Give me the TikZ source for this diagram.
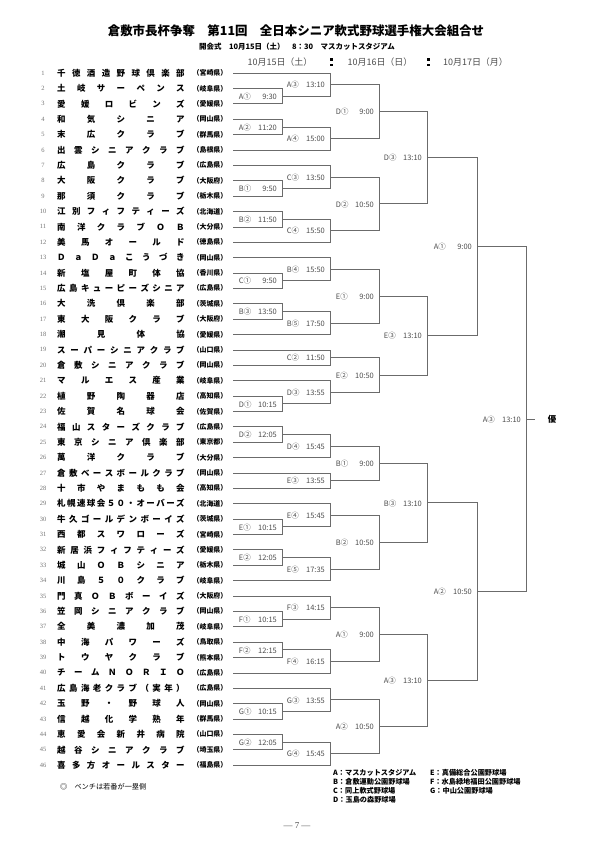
\documentclass[tikz,border=0pt]{standalone}
\usepackage{fontspec}
\setmainfont{Liberation Serif}
\newfontfamily\jp{Noto Sans CJK JP}
\usetikzlibrary{calc}
\definecolor{lncol}{gray}{0.42}
\definecolor{lblcol}{gray}{0.3}
\definecolor{numcol}{gray}{0.45}
\newcommand\SpFirst[1]{#1\SpRest}
\def\SpRest#1{\ifx#1\relax\else\hfill#1\expandafter\SpRest\fi}
\newcommand\Mt[6]{%
  \draw[bline] (#3) -- (#3 -| #2) -- (#4 -| #2) -- (#4);
  \coordinate (#1) at ($(#3 -| #2)!0.5!(#4 -| #2)$);
  \node[mlbl] (L#1) at ($(#1)+(-5,0.5)$) {\hbox to 38pt{#5\hfill#6}};
}
\begin{document}
\begin{tikzpicture}[x=1bp,y=-1bp,
  bline/.style={draw=lncol,line width=0.6pt},
  mlbl/.style={anchor=east,inner sep=0pt,font=\jp\fontsize{7.5}{8}\selectfont,text=lblcol},
  tnum/.style={inner sep=0pt,font=\fontsize{6.5}{7}\selectfont,text=numcol},
  tname/.style={anchor=west,inner sep=0pt,font=\jp\bfseries\fontsize{8.5}{9}\selectfont},
  tpref/.style={inner sep=0pt,font=\jp\bfseries\fontsize{7}{8}\selectfont},
  datetxt/.style={inner sep=0pt,font=\jp\fontsize{9}{10}\selectfont,text=lblcol},
  legend/.style={anchor=west,inner sep=0pt,font=\jp\bfseries\fontsize{7.2}{8}\selectfont}]
\fill[white] (0,0) rectangle (595,842);
\useasboundingbox (0,0) rectangle (595,842);

% header
\node[inner sep=0pt,font=\jp\bfseries\fontsize{12.5}{13}\selectfont] (title) at (296,31)
  {倉敷市長杯争奪　第11回　全日本シニア軟式野球選手権大会組合せ};
\node[inner sep=0pt,font=\jp\bfseries\fontsize{7.5}{8}\selectfont] (opening) at (297,47)
  {開会式　10月15日（土）　8：30　マスカットスタジアム};
\node[datetxt] (day1) at (280,62) {10月15日（土）};
\node[datetxt] (day2) at (380,62) {10月16日（日）};
\node[datetxt] (day3) at (475.5,62) {10月17日（月）};
\fill[black] (330,58) rectangle (332.6,60.6);
\fill[black] (330,63.6) rectangle (332.6,66.2);
\fill[black] (427,58) rectangle (429.6,60.6);
\fill[black] (427,63.6) rectangle (429.6,66.2);

% columns
\coordinate (c1) at (282,0);
\coordinate (c2) at (330,0);
\coordinate (c3) at (379,0);
\coordinate (c4) at (427,0);
\coordinate (c5) at (477,0);
\coordinate (c6) at (526,0);

% teams
\foreach \i/\nm/\pf in {
1/千徳酒造野球倶楽部/宮崎県,
2/土岐サーペンス/岐阜県,
3/愛媛ロビンズ/愛媛県,
4/和気シニア/岡山県,
5/末広クラブ/群馬県,
6/出雲シニアクラブ/島根県,
7/広島クラブ/広島県,
8/大阪クラブ/大阪府,
9/那須クラブ/栃木県,
10/江別フィフティーズ/北海道,
11/南洋クラブＯＢ/大分県,
12/美馬オールド/徳島県,
13/ＤａＤａこうづき/岡山県,
14/新塩屋町体協/香川県,
15/広島キューピーズシニア/広島県,
16/大洗倶楽部/茨城県,
17/東大阪クラブ/大阪府,
18/潮見体協/愛媛県,
19/スーパーシニアクラブ/山口県,
20/倉敷シニアクラブ/岡山県,
21/マルエス産業/岐阜県,
22/植野陶器店/高知県,
23/佐賀名球会/佐賀県,
24/福山スターズクラブ/広島県,
25/東京シニア倶楽部/東京都,
26/萬洋クラブ/大分県,
27/倉敷ベースボールクラブ/岡山県,
28/十市やまもも会/高知県,
29/札幌速球会５０・オーバーズ/北海道,
30/牛久ゴールデンボーイズ/茨城県,
31/西都スワローズ/宮崎県,
32/新居浜フィフティーズ/愛媛県,
33/城山ＯＢシニア/栃木県,
34/川島５０クラブ/岐阜県,
35/門真ＯＢボーイズ/大阪府,
36/笠岡シニアクラブ/岡山県,
37/全美濃加茂/岐阜県,
38/中海パワーズ/鳥取県,
39/トウヤクラブ/熊本県,
40/チームＮＯＲＩＯ/広島県,
41/広島海老クラブ（実年）/広島県,
42/玉野・野球人/岡山県,
43/信越化学熟年/群馬県,
44/恵愛会新井病院/山口県,
45/越谷シニアクラブ/埼玉県,
46/喜多方オールスター/福島県}{
  \pgfmathsetmacro\yy{73+(\i-1)*15.38}
  \coordinate (t\i) at (233,\yy);
  \node[tnum] (num\i) at (43,\yy) {\i};
  \node[tname] (nm\i) at (57,\yy) {\hbox to 128pt{\expandafter\SpFirst\nm\relax}};
  \node[tpref] (pf\i) at (210,\yy) {（\pf）};
}

% round 1 (10/15)
\Mt{m23}{c1}{t2}{t3}{A①}{9:30}
\Mt{m45}{c1}{t4}{t5}{A②}{11:20}
\Mt{m89}{c1}{t8}{t9}{B①}{9:50}
\Mt{m1011}{c1}{t10}{t11}{B②}{11:50}
\Mt{m1415}{c1}{t14}{t15}{C①}{9:50}
\Mt{m1617}{c1}{t16}{t17}{B③}{13:50}
\Mt{m2223}{c1}{t22}{t23}{D①}{10:15}
\Mt{m2425}{c1}{t24}{t25}{D②}{12:05}
\Mt{m3031}{c1}{t30}{t31}{E①}{10:15}
\Mt{m3233}{c1}{t32}{t33}{E②}{12:05}
\Mt{m3637}{c1}{t36}{t37}{F①}{10:15}
\Mt{m3839}{c1}{t38}{t39}{F②}{12:15}
\Mt{m4243}{c1}{t42}{t43}{G①}{10:15}
\Mt{m4445}{c1}{t44}{t45}{G②}{12:05}

% round 2 (10/15)
\Mt{r1}{c2}{t1}{m23}{A③}{13:10}
\Mt{r2}{c2}{m45}{t6}{A④}{15:00}
\Mt{r3}{c2}{t7}{m89}{C③}{13:50}
\Mt{r4}{c2}{m1011}{t12}{C④}{15:50}
\Mt{r5}{c2}{t13}{m1415}{B④}{15:50}
\Mt{r6}{c2}{m1617}{t18}{B⑤}{17:50}
\Mt{r7}{c2}{t19}{t20}{C②}{11:50}
\Mt{r8}{c2}{t21}{m2223}{D③}{13:55}
\Mt{r9}{c2}{m2425}{t26}{D④}{15:45}
\Mt{r10}{c2}{t27}{t28}{E③}{13:55}
\Mt{r11}{c2}{t29}{m3031}{E④}{15:45}
\Mt{r12}{c2}{m3233}{t34}{E⑤}{17:35}
\Mt{r13}{c2}{t35}{m3637}{F③}{14:15}
\Mt{r14}{c2}{m3839}{t40}{F④}{16:15}
\Mt{r15}{c2}{t41}{m4243}{G③}{13:55}
\Mt{r16}{c2}{m4445}{t46}{G④}{15:45}

% round 3 (10/16)
\Mt{s1}{c3}{r1}{r2}{D①}{9:00}
\Mt{s2}{c3}{r3}{r4}{D②}{10:50}
\Mt{s3}{c3}{r5}{r6}{E①}{9:00}
\Mt{s4}{c3}{r7}{r8}{E②}{10:50}
\Mt{s5}{c3}{r9}{r10}{B①}{9:00}
\Mt{s6}{c3}{r11}{r12}{B②}{10:50}
\Mt{s7}{c3}{r13}{r14}{A①}{9:00}
\Mt{s8}{c3}{r15}{r16}{A②}{10:50}

% round 4 (10/16)
\Mt{q1}{c4}{s1}{s2}{D③}{13:10}
\Mt{q2}{c4}{s3}{s4}{E③}{13:10}
\Mt{q3}{c4}{s5}{s6}{B③}{13:10}
\Mt{q4}{c4}{s7}{s8}{A③}{13:10}

% semifinals and final (10/17)
\Mt{h1}{c5}{q1}{q2}{A①}{9:00}
\Mt{h2}{c5}{q3}{q4}{A②}{10:50}
\Mt{fin}{c6}{h1}{h2}{A③}{13:10}
\coordinate (fe) at ($(fin)+(9,0)$);
\draw[bline] (fin) -- (fe);
\node[inner sep=0pt,font=\jp\bfseries\fontsize{8.5}{9}\selectfont] (win) at ($(fin)+(26,0)$) {優};

% legend
\node[legend] (lgA) at (333,773) {A：マスカットスタジアム};
\node[legend] (lgB) at (333,782) {B：倉敷運動公園野球場};
\node[legend] (lgC) at (333,791) {C：同上軟式野球場};
\node[legend] (lgD) at (333,800) {D：玉島の森野球場};
\node[legend] (lgE) at (430,773) {E：真備総合公園野球場};
\node[legend] (lgF) at (430,782) {F：水島緑地福田公園野球場};
\node[legend] (lgG) at (430,791) {G：中山公園野球場};

\node[anchor=west,inner sep=0pt,font=\jp\fontsize{7.2}{8}\selectfont] (note) at (60,787) {◎　ベンチは若番が一塁側};
\node[inner sep=0pt,font=\fontsize{9}{10}\selectfont,text=lblcol] (page) at (297,826) {— 7 —};
\end{tikzpicture}
\end{document}
